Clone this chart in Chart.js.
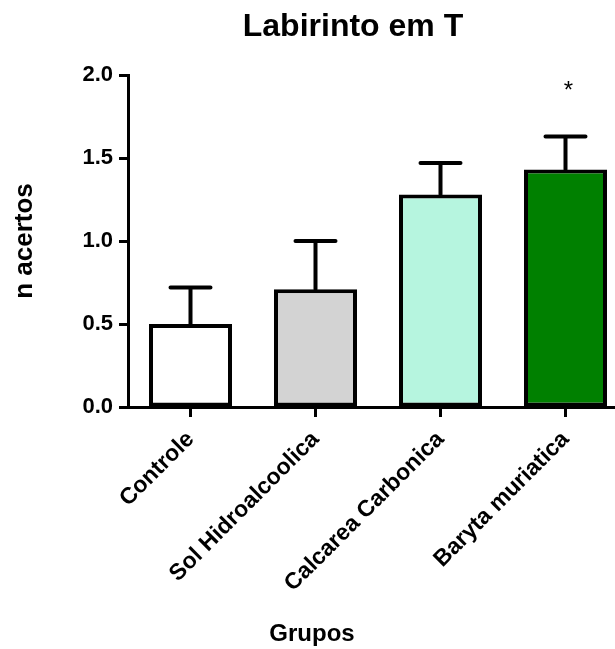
<!DOCTYPE html>
<html>
<head>
<meta charset="utf-8">
<script src="https://cdn.jsdelivr.net/npm/chart.js@4.4.1/dist/chart.umd.min.js"></script>
<style>
	html, body { margin: 0; padding: 0; background: #fff; overflow: hidden; }
	#wrap { width: 640px; height: 649px; }
</style>
</head>
<body>
<div id="wrap"><canvas id="chart" width="640" height="649"></canvas></div>
<script>
const categories = ['Controle', 'Sol Hidroalcoolica', 'Calcarea Carbonica', 'Baryta muriatica'];
const means = [0.50, 0.71, 1.28, 1.43];
const errors = [0.22, 0.29, 0.19, 0.20];
const fills = ['#ffffff', '#d3d3d3', '#b6f5df', '#008000'];
const marks = ['', '', '', '*'];
const yTicks = [0.0, 0.5, 1.0, 1.5, 2.0];

const chartTitle = 'Labirinto em T';
const xTitle = 'Grupos';
const yTitle = 'n acertos';

const font = 'Liberation Sans, Arial, sans-serif';

// error bars + significance marks, drawn through the scales
const errorBars = {
	id: 'errorBars',
	afterDatasetsDraw: function (chart) {
		const ctx = chart.ctx;
		const y = chart.scales.y;
		const meta = chart.getDatasetMeta(0);
		ctx.save();
		ctx.strokeStyle = '#000';
		ctx.lineWidth = 4;
		ctx.lineCap = 'round';
		meta.data.forEach(function (bar, i) {
			const top = y.getPixelForValue(means[i]);
			const end = y.getPixelForValue(means[i] + errors[i]);
			ctx.beginPath();
			ctx.moveTo(bar.x, top);
			ctx.lineTo(bar.x, end);
			ctx.moveTo(bar.x - 20, end);
			ctx.lineTo(bar.x + 20, end);
			ctx.stroke();
			if (marks[i]) {
				ctx.fillStyle = '#000';
				ctx.font = '24px ' + font;
				ctx.textAlign = 'center';
				ctx.textBaseline = 'middle';
				ctx.fillText(marks[i], bar.x + 3, y.getPixelForValue(1.9));
			}
		});
		ctx.restore();
	}
};

// title and x axis title sit off-centre in the original, so place them by hand
const headings = {
	id: 'headings',
	afterDraw: function (chart) {
		const ctx = chart.ctx;
		ctx.save();
		ctx.fillStyle = '#000';
		ctx.textAlign = 'center';
		ctx.textBaseline = 'middle';
		ctx.font = 'bold 32px ' + font;
		ctx.fillText(chartTitle, 353, 27);
		ctx.font = 'bold 24px ' + font;
		ctx.fillText(xTitle, 312, 634);
		ctx.restore();
	}
};

const ctx = document.getElementById('chart').getContext('2d');
const chart = new Chart(ctx, {
	type: 'bar',
	data: {
		labels: categories,
		datasets: [{
			label: yTitle,
			data: means,
			backgroundColor: fills,
			borderColor: '#000',
			borderWidth: 4,
			borderSkipped: false,
			categoryPercentage: 1,
			barPercentage: 0.664
		}]
	},
	options: {
		responsive: false,
		animation: false,
		devicePixelRatio: 1,
		layout: { padding: { left: 0, right: 12, top: 75, bottom: 0 } },
		plugins: {
			legend: { display: false },
			tooltip: { enabled: false },
			title: { display: false }
		},
		scales: {
			x: {
				afterFit: function (scale) { scale.height = 242; },
				border: { color: '#000', width: 3 },
				grid: { display: true, offset: false, drawOnChartArea: false, color: '#000', tickLength: 10, tickWidth: 3 },
				ticks: {
					color: '#000',
					minRotation: 45,
					maxRotation: 45,
					padding: 9,
					font: { family: font, size: 23, weight: 'bold' }
				}
			},
			y: {
				min: 0,
				max: 2,
				afterFit: function (scale) { scale.width = 128; },
				afterBuildTicks: function (scale) {
					scale.ticks = yTicks.map(function (v) { return { value: v }; });
				},
				border: { color: '#000', width: 3 },
				grid: { display: true, drawOnChartArea: false, color: '#000', tickLength: 9, tickWidth: 3 },
				ticks: {
					color: '#000',
					padding: 6,
					font: { family: font, size: 22, weight: 'bold' },
					callback: function (v) { return v.toFixed(1); }
				},
				title: {
					display: true,
					text: yTitle,
					color: '#000',
					font: { family: font, size: 26, weight: 'bold' },
					padding: { top: 9, bottom: 0 }
				}
			}
		}
	},
	plugins: [errorBars, headings]
});
</script>
</body>
</html>
